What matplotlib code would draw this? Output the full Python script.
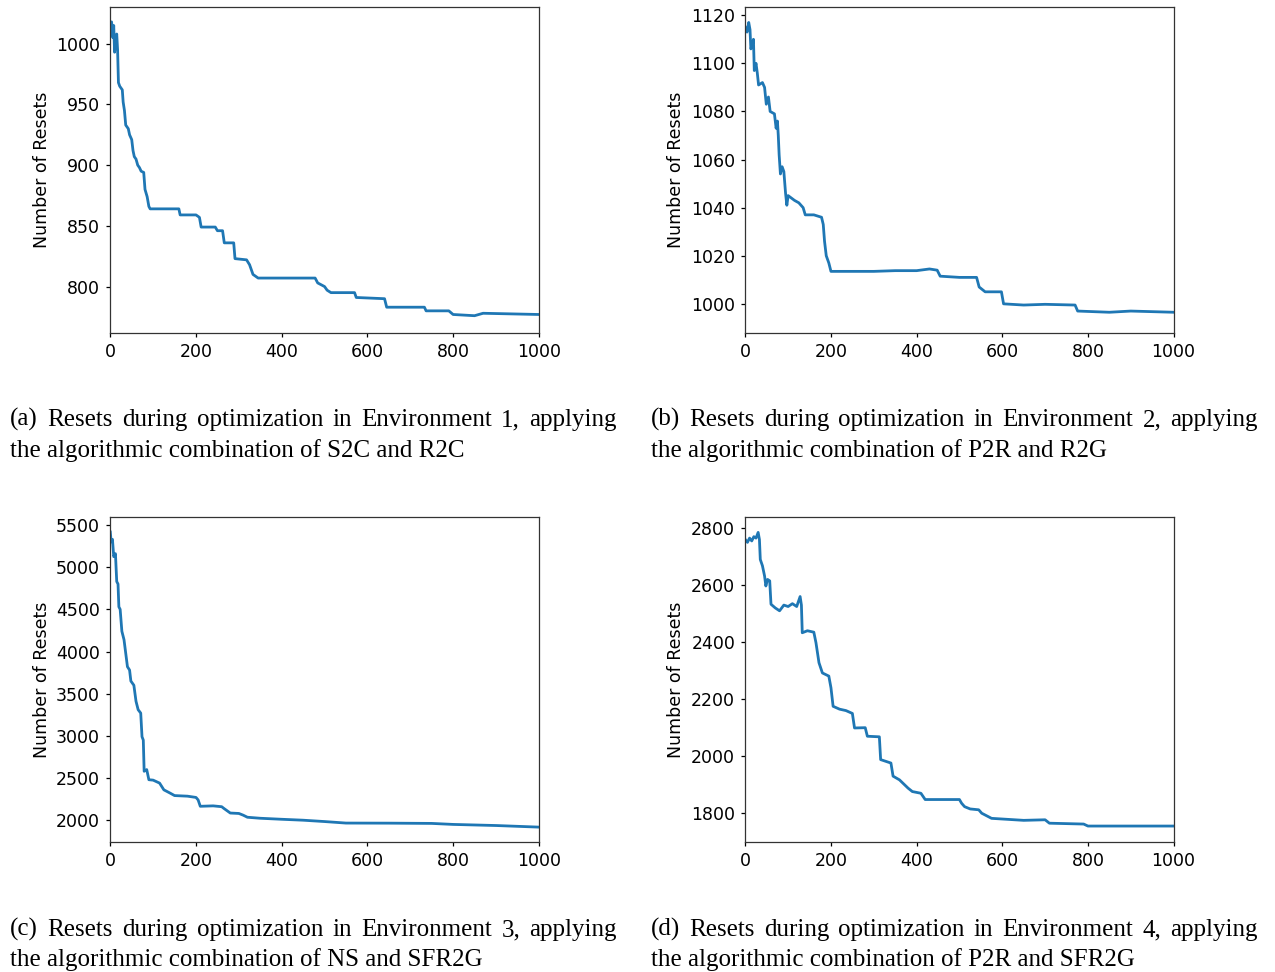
import matplotlib
matplotlib.use("Agg")
import matplotlib.pyplot as plt

# ---------------- data ----------------
iters_a = [0, 3, 6, 8, 10, 12, 15, 17, 19, 22, 28, 30, 33, 36, 42, 45, 50, 53, 56, 60, 64, 68, 72, 78,
           81, 86, 90, 93, 120, 160, 163, 200, 208, 212, 245, 250, 262, 266, 288, 291, 318, 325, 333,
           345, 400, 478, 484, 500, 506, 515, 570, 574, 640, 645, 700, 733, 737, 790, 800, 850, 870, 1000]
resets_a = [1012, 1018, 1005, 1015, 993, 1000, 1008, 995, 968, 965, 962, 952, 945, 933, 930, 925, 921,
            912, 907, 905, 900, 898, 895, 894, 880, 874, 866, 864, 864, 864, 859, 859, 857, 849, 849,
            846, 846, 836, 836, 823, 822, 818, 810, 807, 807, 807, 803, 800, 797, 795, 795, 791, 790,
            783, 783, 783, 780, 780, 777, 776, 778, 777]

iters_b = [0, 4, 8, 11, 13, 17, 19, 21, 25, 28, 31, 40, 45, 49, 54, 58, 68, 72, 75, 77, 79, 82, 86, 90,
           94, 97, 100, 115, 125, 135, 140, 160, 178, 182, 185, 189, 195, 200, 250, 300, 350, 400, 430,
           448, 455, 500, 540, 546, 560, 598, 603, 650, 700, 770, 776, 850, 900, 1000]
resets_b = [1115, 1113, 1117, 1114, 1106, 1108, 1110, 1097, 1100, 1096, 1091, 1092, 1090, 1083, 1086,
            1080, 1079, 1073, 1076, 1070, 1062, 1054, 1057, 1055, 1046, 1041, 1045, 1043, 1042, 1040,
            1037, 1037, 1036, 1033, 1026, 1020, 1017, 1013.5, 1013.5, 1013.5, 1013.8, 1013.8, 1014.5,
            1014, 1011.5, 1011, 1011, 1007, 1005, 1005, 1000, 999.5, 999.8, 999.5, 997, 996.5, 997, 996.5]

iters_c = [0, 2, 5, 8, 12, 15, 18, 20, 23, 27, 32, 35, 40, 45, 48, 55, 60, 65, 71, 74, 77, 79, 85, 90,
           100, 115, 125, 140, 150, 180, 200, 205, 210, 240, 260, 265, 280, 300, 310, 320, 350, 400,
           450, 500, 550, 650, 750, 800, 900, 1000]
resets_c = [5417, 5300, 5330, 5125, 5160, 4830, 4800, 4530, 4500, 4240, 4140, 4020, 3820, 3780, 3650,
            3600, 3410, 3310, 3270, 2990, 2950, 2580, 2600, 2480, 2475, 2440, 2360, 2320, 2292, 2285,
            2270, 2240, 2165, 2170, 2160, 2140, 2085, 2080, 2060, 2035, 2023, 2011, 2000, 1984, 1966,
            1965, 1962, 1950, 1937, 1918]

iters_d = [0, 5, 10, 15, 20, 25, 30, 33, 35, 40, 45, 48, 52, 57, 60, 70, 80, 90, 100, 110, 120, 128,
           131, 133, 145, 160, 165, 172, 180, 195, 200, 205, 220, 235, 250, 255, 280, 285, 313, 316,
           340, 345, 360, 380, 390, 410, 420, 500, 505, 512, 525, 545, 552, 575, 650, 700, 710, 790,
           800, 1000]
resets_d = [2760, 2750, 2765, 2755, 2770, 2765, 2785, 2760, 2690, 2668, 2632, 2597, 2620, 2615, 2533,
            2520, 2510, 2530, 2525, 2535, 2525, 2560, 2530, 2433, 2440, 2435, 2398, 2328, 2292, 2281,
            2240, 2175, 2165, 2160, 2150, 2099, 2100, 2070, 2068, 1988, 1976, 1930, 1917, 1888, 1876,
            1870, 1848, 1848, 1835, 1823, 1815, 1812, 1800, 1782, 1775, 1777, 1765, 1762, 1755, 1755]

xticks = [0, 200, 400, 600, 800, 1000]
yticks_a = [800, 850, 900, 950, 1000]
yticks_b = [1000, 1020, 1040, 1060, 1080, 1100, 1120]
yticks_c = [2000, 2500, 3000, 3500, 4000, 4500, 5000, 5500]
yticks_d = [1800, 2000, 2200, 2400, 2600, 2800]
ylims = [(762, 1030), (988, 1123.3), (1738, 5595), (1698, 2839)]

ylabel = "Number of Resets"
captions = [
    ("(a) Resets during optimization in Environment 1, applying",
     "the algorithmic combination of S2C and R2C"),
    ("(b) Resets during optimization in Environment 2, applying",
     "the algorithmic combination of P2R and R2G"),
    ("(c) Resets during optimization in Environment 3, applying",
     "the algorithmic combination of NS and SFR2G"),
    ("(d) Resets during optimization in Environment 4, applying",
     "the algorithmic combination of P2R and SFR2G"),
]

# ---------------- figure ----------------
W, H = 1275, 972
plt.rcParams.update({
    "font.family": "DejaVu Sans",
    "font.size": 12.5,
    "axes.linewidth": 0.9,
    "xtick.major.size": 3.0,
    "ytick.major.size": 3.0,
    "xtick.major.width": 0.9,
    "ytick.major.width": 0.9,
    "xtick.major.pad": 4.3,
    "ytick.major.pad": 4.3,
})
fig = plt.figure(figsize=(W / 100, H / 100), dpi=100)

# axes boxes in pixels: left, top, right, bottom
boxes = [(110.3, 7.3, 538.8, 332.7), (745.3, 7.3, 1173.6, 332.7),
         (110.3, 517.0, 538.8, 842.3), (745.3, 517.0, 1173.6, 842.3)]
series = [(iters_a, resets_a, yticks_a), (iters_b, resets_b, yticks_b),
          (iters_c, resets_c, yticks_c), (iters_d, resets_d, yticks_d)]

for (l, t, r, b), (xs, ys, yt), yl in zip(boxes, series, ylims):
    ax = fig.add_axes([l / W, 1 - b / H, (r - l) / W, (b - t) / H])
    ax.plot(xs, ys, color="#1f77b4", lw=2.0)
    ax.set_xlim(0, 1000)
    ax.set_ylim(*yl)
    ax.set_xticks(xticks)
    ax.set_yticks(yt)
    ax.set_ylabel(ylabel)
    for s in ax.spines.values():
        s.set_color("#333333")

# ---------------- captions (justified first line) ----------------
renderer = fig.canvas.get_renderer()
cap_font = dict(family="Liberation Serif", size=18, color="black")
cap_pos = [(10, 617, 426, 457), (651, 1258, 426, 457), (10, 617, 936, 966), (651, 1258, 936, 966)]

for (line1, line2), (x0, x1, y1, y2) in zip(captions, cap_pos):
    words = line1.split(" ")
    texts = [fig.text(0, 1 - y1 / H, w, ha="left", va="baseline", **cap_font) for w in words]
    widths = [tx.get_window_extent(renderer).width for tx in texts]
    gap = ((x1 - x0) - sum(widths)) / (len(words) - 1)
    xpos = x0
    for tx, wd in zip(texts, widths):
        tx.set_x(xpos / W)
        xpos += wd + gap
    fig.text(x0 / W, 1 - y2 / H, line2, ha="left", va="baseline", **cap_font)

fig.savefig("out.png", dpi=100)
